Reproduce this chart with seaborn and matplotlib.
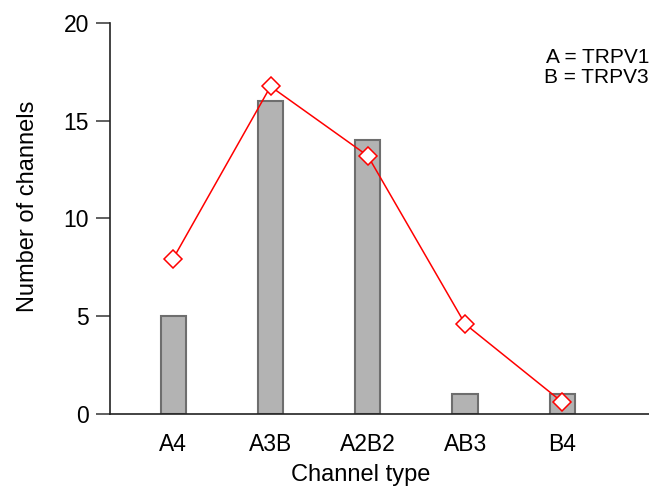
import matplotlib
matplotlib.use("Agg")
import matplotlib.pyplot as plt
import seaborn as sns
import pandas as pd

categories = ["A4", "A3B", "A2B2", "AB3", "B4"]
bar_values = [5, 16, 14, 1, 1]
line_values = [7.95, 16.75, 13.2, 4.6, 0.6]
y_ticks = [0, 5, 10, 15, 20]

sns.set_theme(style="white")
plt.rcParams["font.family"] = ["Liberation Sans", "DejaVu Sans"]

df = pd.DataFrame({"type": categories, "bars": bar_values, "line": line_values})

fig = plt.figure(figsize=(6.49, 4.87), dpi=100)
ax = fig.add_axes([0.1695, 0.150, 0.8305, 0.803])

sns.barplot(data=df, x="type", y="bars", ax=ax, color="#b3b3b3",
            saturation=1, width=0.26, edgecolor="#6e6e6e", linewidth=1.5)
sns.lineplot(data=df, x="type", y="line", ax=ax, color="red", linewidth=1.1,
             marker="D", markersize=9, markerfacecolor="white",
             markeredgecolor="red", markeredgewidth=1.1)

ax.set_xlim(-0.65, 4.89)
ax.set_ylim(0, 20)
ax.set_yticks(y_ticks)
ax.set_yticklabels([str(t) for t in y_ticks])
sns.despine(ax=ax, top=True, right=True)
for s in ["left", "bottom"]:
    ax.spines[s].set_color("#222222")
    ax.spines[s].set_linewidth(1.2)
ax.tick_params(axis="y", which="major", direction="out", length=10, width=1.2,
               color="#444444", labelsize=16.5, left=True, pad=5, labelcolor="black")
ax.tick_params(axis="x", length=0, labelsize=16.5, pad=14, labelcolor="black")
ax.set_xlabel("Channel type", fontsize=17, color="black")
ax.xaxis.set_label_coords(0.465, -0.127)
ax.set_ylabel("Number of channels", fontsize=17, color="black")
ax.yaxis.set_label_coords(-0.132, 0.532)

ax.text(1.0, 0.935, "A = TRPV1\nB = TRPV3", transform=ax.transAxes,
        ha="right", va="top", fontsize=15, linespacing=1.05, color="black")

fig.savefig("out.png", dpi=100)
